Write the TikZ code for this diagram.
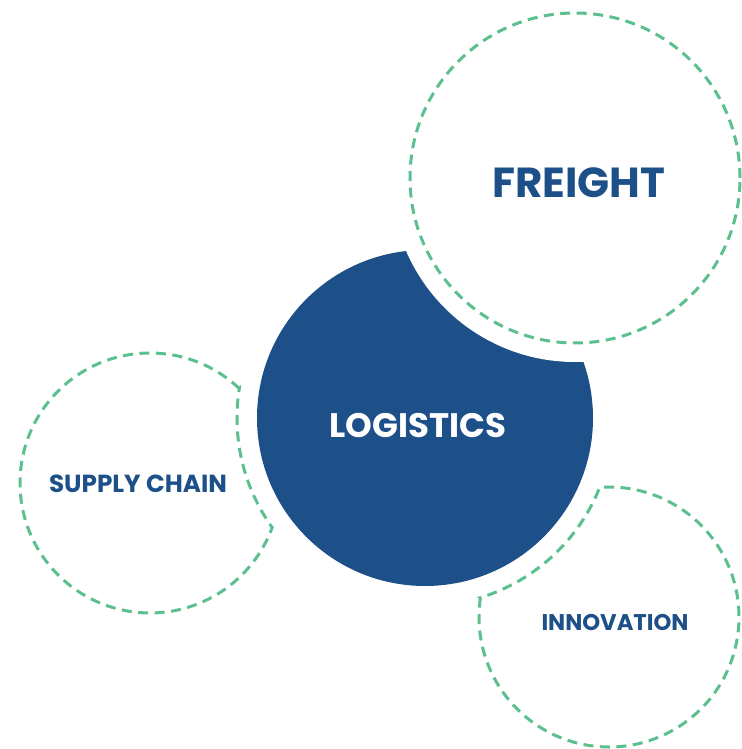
\documentclass[tikz,border=0pt]{standalone}
\usepackage{fontspec}
\setmainfont{Poppins}
\usetikzlibrary{positioning}
\definecolor{navy}{HTML}{1D5089}
\definecolor{mint}{HTML}{5BC08E}

\begin{document}
\begin{tikzpicture}[x=1pt,y=1pt]
  \tikzstyle{ring}=[draw=mint,line width=3pt,dash pattern=on 10pt off 6.5pt]
  \tikzstyle{title}=[text=navy,inner sep=0pt]
  \useasboundingbox (0,0) rectangle (741,749);

  % centres of the four circles
  \coordinate (L) at (425,331);
  \coordinate (F) at (575,571);
  \coordinate (S) at (150,266);
  \coordinate (I) at (609,132);

  % main disc, bitten by the freight circle
  \fill[navy] (L) circle (168);
  \fill[white] (F) circle (184);
  \draw[ring] (F) circle (165);

  % the two small circles, cut round the main disc
  \draw[ring] (S) ++(46.61:130) arc[start angle=46.61,end angle=339.99,radius=130]
              arc[start angle=215.61,end angle=170.97,radius=188] -- cycle;
  \draw[ring] (I) ++(171.44:130) arc[start angle=171.44,end angle=454.08,radius=130]
              arc[start angle=-21.64,end angle=-72.85,radius=188] -- cycle;

  \node[title,font=\fontsize{42}{42}\selectfont\bfseries] (freight) at (579,566) {FREIGHT};
  \node[title,text=white,font=\fontsize{34}{34}\selectfont\bfseries] (logistics) at (418,323) {LOGISTICS};
  \node[title,font=\fontsize{24.7}{24.7}\selectfont\bfseries] (supply) at (138,265) {SUPPLY CHAIN};
  \node[title,font=\fontsize{22.7}{22.7}\selectfont\bfseries] (innovation) at (615,126) {INNOVATION};
\end{tikzpicture}
\end{document}
